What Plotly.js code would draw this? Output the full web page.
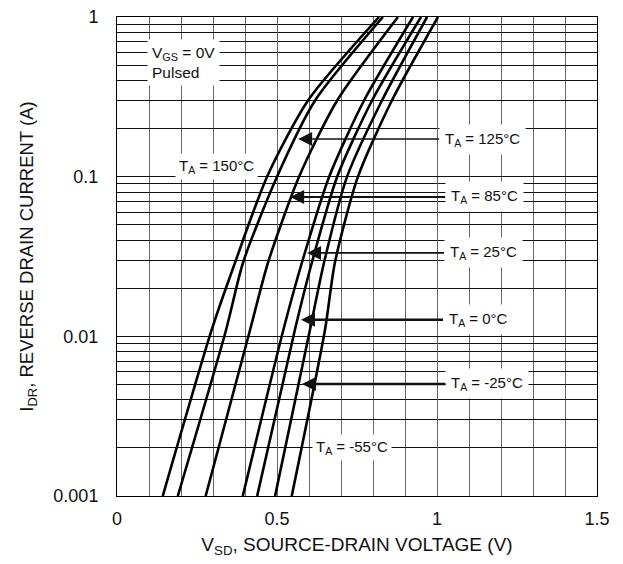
<!DOCTYPE html>
<html>
<head>
<meta charset="utf-8">
<script src="https://cdn.plot.ly/plotly-3.0.1.min.js"></script>
<style>html,body{margin:0;padding:0;background:#fff;}#chart{width:623px;height:564px;}</style>
</head>
<body>
<div id="chart"></div>
<script>
// Reverse drain current levels (A) at which the voltages were read
const currentA = [0.001, 0.011, 0.029, 0.1, 0.3, 1];
// Source-drain voltage (V) for each ambient temperature
const v150 = [0.143, 0.296, 0.369, 0.469, 0.597, 0.819];
const v125 = [0.190, 0.341, 0.394, 0.500, 0.619, 0.831];
const v85  = [0.277, 0.416, 0.472, 0.569, 0.688, 0.878];
const v25  = [0.393, 0.520, 0.578, 0.663, 0.772, 0.925];
const v0   = [0.438, 0.556, 0.609, 0.688, 0.797, 0.950];
const vM25 = [0.494, 0.603, 0.647, 0.719, 0.828, 0.969];
const vM55 = [0.546, 0.650, 0.681, 0.753, 0.859, 1.003];
const seriesNames = ['150°C', '125°C', '85°C', '25°C', '0°C', '-25°C', '-55°C'];
const seriesV = [v150, v125, v85, v25, v0, vM25, vM55];

const xTickVals = [0, 0.5, 1, 1.5];
const xTickText = ['0', '0.5', '1', '1.5'];
const yTickVals = [0.001, 0.01, 0.1, 1];
const yTickText = ['0.001', '0.01', '0.1', '1'];

// Arrow-labelled temperatures: label text, arrow tip (V, A)
const arrowLabels = ['125°C', '85°C', '25°C', '0°C', '-25°C'];
const arrowTipV = [0.566, 0.541, 0.594, 0.575, 0.578];
const arrowTipI = [0.172, 0.0746, 0.0333, 0.0127, 0.00503];
</script>
<script>
const FONT = 'Liberation Sans, Arial, Helvetica, sans-serif';
const TXT = '#111';

const traces = seriesV.map((v, i) => ({
  type: 'scatter', mode: 'lines', name: seriesNames[i],
  x: v, y: currentA,
  line: {color: '#000', width: 2.6, shape: 'spline', smoothing: 0.7},
  hoverinfo: 'skip', showlegend: false
}));

// grid positions (axis configuration)
const yMinor = [];
for (let d = -3; d < 0; d++) for (let m = 2; m <= 9; m++) yMinor.push(m * Math.pow(10, d));
const xMinor = [];
for (let k = 0; k <= 15; k++) if (k % 5) xMinor.push(+(k * 0.1).toFixed(1));

const axOffsets = [184, 194, 176, 177, 185];
const arrowW = [1.6, 2.2, 1.6, 2.6, 2.6];
const annotations = arrowLabels.map((lab, i) => ({
  x: arrowTipV[i], y: Math.log10(arrowTipI[i]), xref: 'x', yref: 'y',
  text: 'T<sub>A</sub> = ' + lab,
  showarrow: true, ax: axOffsets[i], ay: 0,
  arrowhead: 2, arrowsize: 1.4 * 2 / arrowW[i], arrowwidth: arrowW[i], arrowcolor: '#111',
  bgcolor: '#fff', borderpad: 5,
  font: {family: FONT, size: 15, color: TXT}
}));
annotations.push({
  x: 0.31, y: Math.log10(0.115), xref: 'x', yref: 'y', showarrow: false,
  text: 'T<sub>A</sub> = ' + seriesNames[0], bgcolor: '#fff', borderpad: 3,
  font: {family: FONT, size: 15, color: TXT}
});
annotations.push({
  x: 0.734, y: Math.log10(0.002), xref: 'x', yref: 'y', showarrow: false,
  text: 'T<sub>A</sub> = ' + seriesNames[6], bgcolor: '#fff', borderpad: 3,
  font: {family: FONT, size: 15, color: TXT}
});
annotations.push({
  x: 0.095, y: Math.log10(0.52), xref: 'x', yref: 'y', showarrow: false,
  xanchor: 'left', align: 'left',
  text: 'V<sub>GS</sub> = 0V<br>Pulsed', bgcolor: '#fff', borderpad: 4,
  font: {family: FONT, size: 15.5, color: TXT}
});

const layout = {
  width: 623, height: 564,
  margin: {l: 117, r: 26, t: 17, b: 68},
  paper_bgcolor: '#fff', plot_bgcolor: '#fff',
  showlegend: false,
  font: {family: FONT, color: TXT},
  xaxis: {
    range: [0, 1.5], tickmode: 'array', tickvals: xTickVals, ticktext: xTickText,
    showgrid: true, gridcolor: '#666', gridwidth: 1, zeroline: false,
    minor: {tickmode: 'array', tickvals: xMinor, showgrid: true, gridcolor: '#666', gridwidth: 1, ticks: ''},
    showline: true, mirror: true, linecolor: '#000', linewidth: 1,
    ticks: '', ticklabelstandoff: 6,
    tickfont: {family: FONT, size: 18, color: TXT},
    title: {text: 'V<sub>SD</sub>, SOURCE-DRAIN VOLTAGE (V)', font: {family: FONT, size: 19, color: TXT}, standoff: 10}
  },
  yaxis: {
    type: 'log', range: [-3, 0], tickmode: 'array', tickvals: yTickVals, ticktext: yTickText,
    showgrid: true, gridcolor: '#111', gridwidth: 1, zeroline: false,
    minor: {tickmode: 'array', tickvals: yMinor, showgrid: true, gridcolor: '#111', gridwidth: 1, ticks: ''},
    showline: true, mirror: true, linecolor: '#000', linewidth: 1,
    ticks: '', ticklabelstandoff: 14,
    tickfont: {family: FONT, size: 18, color: TXT},
    title: {text: 'I<sub>DR</sub>, REVERSE DRAIN CURRENT (A)', font: {family: FONT, size: 18.5, color: TXT}, standoff: 14}
  },
  annotations: annotations
};

Plotly.newPlot('chart', traces, layout, {staticPlot: true, displayModeBar: false});
</script>
</body>
</html>
